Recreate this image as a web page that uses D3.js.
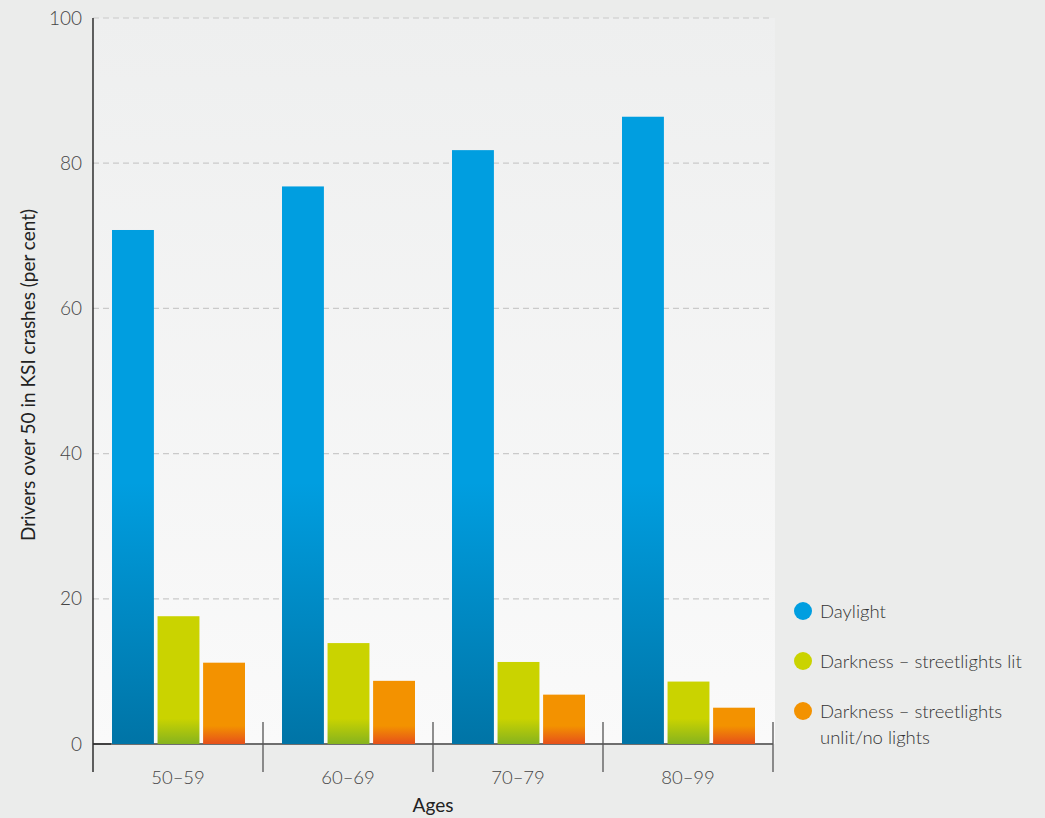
<!DOCTYPE html>
<html><head><meta charset="utf-8">
<script src="https://cdn.jsdelivr.net/npm/d3@7"></script>
<style>
html,body{margin:0;padding:0;background:#ebeceb;}
svg{display:block;font-family:Lato,"Open Sans",sans-serif;}
</style></head>
<body>
<svg id="chart" width="1045" height="818"></svg>
<script>
const categories = ["50–59", "60–69", "70–79", "80–99"];
const seriesNames = ["Daylight", "Darkness – streetlights lit", "Darkness – streetlights unlit/no lights"];
const daylight = [70.8, 76.8, 81.8, 86.4];
const darkLit = [17.6, 13.9, 11.3, 8.6];
const darkUnlit = [11.2, 8.7, 6.8, 5.0];
const yTicks = [0, 20, 40, 60, 80, 100];
const colors = ["#009ee0", "#cad300", "#f39200"];
const darkColors = ["#0074a6", "#86b31e", "#e6501b"];

const FONT = "Lato, 'Open Sans', sans-serif";
const svg = d3.select("#chart");
const m = {left: 93, right: 773, top: 18, bottom: 744};

const x = d3.scaleBand().domain(categories).range([m.left, m.right]).paddingInner(0).paddingOuter(0);
const xs = d3.scaleBand().domain([0,1,2]).range([19, 170-18]).paddingInner(0.08);
const y = d3.scaleLinear().domain([0, 100]).range([m.bottom, m.top]);

const defs = svg.append("defs");
const bg = defs.append("linearGradient").attr("id","bg").attr("x1",0).attr("x2",0).attr("y1",0).attr("y2",1);
bg.append("stop").attr("offset","0%").attr("stop-color","#eeefef");
bg.append("stop").attr("offset","100%").attr("stop-color","#fafafa");

const gradStart = [y(36), y(3.5), y(2.5)];
colors.forEach((c,i)=>{
  const g = defs.append("linearGradient").attr("id","g"+i).attr("gradientUnits","userSpaceOnUse")
    .attr("x1",0).attr("x2",0).attr("y1",gradStart[i]).attr("y2",m.bottom);
  g.append("stop").attr("offset","0%").attr("stop-color",c);
  g.append("stop").attr("offset","100%").attr("stop-color",darkColors[i]);
});

svg.append("rect").attr("x",m.left).attr("y",m.top).attr("width",m.right-m.left+2).attr("height",m.bottom-m.top).attr("fill","url(#bg)");

// gridlines
svg.append("g").selectAll("line").data(yTicks.filter(d=>d>0)).join("line")
  .attr("x1",m.left).attr("x2",m.right).attr("y1",d=>y(d)).attr("y2",d=>y(d))
  .attr("stroke","#cacaca").attr("stroke-width",1.2).attr("stroke-dasharray","6,4");

// y axis labels
const yAxis = d3.axisLeft(y).tickValues(yTicks).tickSize(0).tickPadding(11);
const ya = svg.append("g").attr("transform",`translate(${m.left},0)`).call(yAxis);
ya.select(".domain").remove();
ya.selectAll("text").attr("font-size",19).attr("fill","#444").attr("font-weight",300).attr("font-family",FONT);

// baseline
svg.append("line").attr("x1",m.left).attr("x2",m.right).attr("y1",m.bottom).attr("y2",m.bottom).attr("stroke","#6e6e6e").attr("stroke-width",2);

// bars
const series = [daylight, darkLit, darkUnlit];
series.forEach((vals,si)=>{
  svg.append("g").selectAll("rect").data(vals).join("rect")
    .attr("x",(d,i)=>x(categories[i])+xs(si))
    .attr("width",xs.bandwidth())
    .attr("y",d=>y(d))
    .attr("height",d=>y(0)-y(d))
    .attr("fill",`url(#g${si})`);
});

// left axis line
svg.append("line").attr("x1",m.left).attr("x2",m.left).attr("y1",m.top).attr("y2",772).attr("stroke","#111").attr("stroke-width",1.3);
svg.append("line").attr("x1",m.left).attr("x2",m.left+18).attr("y1",m.bottom).attr("y2",m.bottom).attr("stroke","#333").attr("stroke-width",1.5);

// category boundary ticks
const bounds = categories.slice(1).map(c=>x(c)).concat([m.right]);
svg.append("g").selectAll("line").data(bounds).join("line")
  .attr("x1",d=>d).attr("x2",d=>d).attr("y1",722).attr("y2",772).attr("stroke","#555").attr("stroke-width",1.3);

// x labels
const xAxis = d3.axisBottom(x).tickSize(0).tickPadding(27);
const xa = svg.append("g").attr("transform",`translate(0,${m.bottom})`).call(xAxis);
xa.select(".domain").remove();
xa.selectAll("text").attr("font-size",18.5).attr("fill","#444").attr("font-weight",300).attr("font-family",FONT);

// axis titles
svg.append("text").attr("x",433).attr("y",812).attr("text-anchor","middle").attr("font-size",19).attr("fill","#222").attr("font-family",FONT).text("Ages");
svg.append("text").attr("transform","translate(35,375) rotate(-90)").attr("text-anchor","middle").attr("font-size",19).attr("fill","#222").attr("font-family",FONT).text("Drivers over 50 in KSI crashes (per cent)");

// legend
const legY = [611, 661, 711];
const lg = svg.append("g");
seriesNames.forEach((n,i)=>{
  lg.append("circle").attr("cx",803).attr("cy",legY[i]).attr("r",9).attr("fill",colors[i]);
  const t = lg.append("text").attr("x",820).attr("y",legY[i]+6.5).attr("font-size",18.5).attr("fill","#333").attr("font-weight",300).attr("font-family",FONT);
  if(i===2){
    t.append("tspan").attr("x",820).text("Darkness – streetlights");
    t.append("tspan").attr("x",820).attr("dy",26).text("unlit/no lights");
  } else t.text(n);
});
</script>
</body></html>
